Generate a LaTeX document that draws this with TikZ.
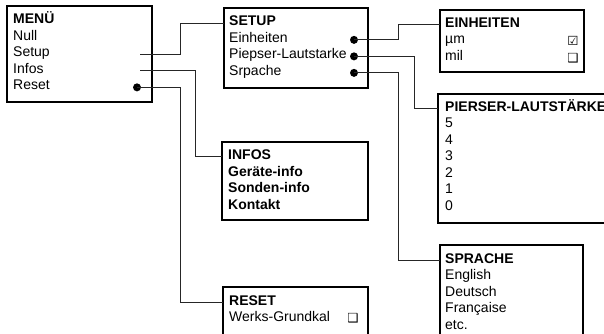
\documentclass[tikz,border=0pt]{standalone}
\usepackage{fontspec}
\setmainfont{Liberation Sans}
\newfontfamily\symfont{DejaVu Sans}
\usepackage{tikz}
\usetikzlibrary{calc}

\begin{document}
\begin{tikzpicture}[x=1pt, y=-1pt,
    menubox/.style={draw=black, line width=1.4pt, fill=white, outer sep=0pt, anchor=north west},
    titel/.style={anchor=base west, inner sep=0pt, font=\fontsize{14}{16}\selectfont\bfseries},
    eintrag/.style={anchor=base west, inner sep=0pt, font=\fontsize{14}{16}\selectfont},
    kaestchen/.style={inner sep=0pt, font=\symfont\fontsize{12.5}{14}\selectfont},
    punkt/.style={circle, fill=black, inner sep=0pt, minimum size=8pt},
    leitung/.style={draw=black!85, line width=0.8pt}]
  \clip (0,0) rectangle (604,334);

  %% boxes
  \foreach \name/\xa/\ya/\xb/\yb in {menu/7/6/152/102, setup/224/8/368/88,
                      einh/440/10/584/72, laut/438/94/640/223,
                      sprache/440/245/583/360, infos/222/142/368/220,
                      reset/223/287/368/360}{
    \pgfmathsetmacro{\bw}{\xb - \xa}
    \pgfmathsetmacro{\bh}{\yb - \ya}
    \node[menubox, minimum width=\bw pt, minimum height=\bh pt] (\name) at (\xa,\ya) {};
  }

  %% titles
  \node[titel] (menuT)    at ($(menu.north west)+(6,18)$)    {MENÜ};
  \node[titel] (setupT)   at ($(setup.north west)+(5,18)$)   {SETUP};
  \node[titel] (einhT)    at ($(einh.north west)+(5,17.5)$)  {EINHEITEN};
  \node[titel] (lautT)    at ($(laut.north west)+(7,17)$)    {PIERSER-LAUTSTÄRKE};
  \node[titel] (spracheT) at ($(sprache.north west)+(5,18)$) {SPRACHE};
  \node[titel] (infosT)   at ($(infos.north west)+(6,17.5)$) {INFOS};
  \node[titel] (resetT)   at ($(reset.north west)+(6,18.5)$) {RESET};

  %% entries
  \foreach \i/\txt in {1/Null, 2/Setup, 3/Infos, 4/Reset}
    \node[eintrag] (menu\i) at ($(menuT.base west)+(0,{16.5*\i})$) {\txt};
  \foreach \i/\txt in {1/Einheiten, 2/Piepser-Lautstarke, 3/Srpache}
    \node[eintrag] (setup\i) at ($(setupT.base west)+(0,{16.5*\i})$) {\txt};
  \foreach \i/\txt in {1/µm, 2/mil}
    \node[eintrag] (einh\i) at ($(einhT.base west)+(0,{16.5*\i})$) {\txt};
  \foreach \i/\txt in {1/5, 2/4, 3/3, 4/2, 5/1, 6/0}
    \node[eintrag] (laut\i) at ($(lautT.base west)+(0,{16.5*\i})$) {\txt};
  \foreach \i/\txt in {1/English, 2/Deutsch, 3/Française, 4/etc.}
    \node[eintrag] (sprache\i) at ($(spracheT.base west)+(0,{16.5*\i})$) {\txt};
  \foreach \i/\txt in {1/Geräte-info, 2/Sonden-info, 3/Kontakt}
    \node[eintrag, font=\fontsize{14}{16}\selectfont\bfseries] (infos\i)
      at ($(infosT.base west)+(0,{16.5*\i})$) {\txt};
  \node[eintrag] (reset1) at ($(resetT.base west)+(0,15.5)$) {Werks-Grundkal};

  %% check boxes
  \node[kaestchen] (kUm)  at ($(einh.east |- einh1.mid)+(-11,0)$) {☑};
  \node[kaestchen] (kMil) at ($(einh.east |- einh2.mid)+(-11,0)$) {❑};
  \node[kaestchen] (kWerk) at ($(reset.east |- reset1.mid)+(-15,0)$) {❑};

  %% dots and line ends
  \coordinate (cSetup) at ($(menu.east |- menu2.mid)+(-12,0)$);
  \coordinate (cInfos) at ($(menu.east |- menu3.mid)+(-12,0)$);
  \node[punkt] (dReset) at ($(menu.east |- menu4.mid)+(-15,0)$) {};
  \foreach \i in {1,2,3}
    \node[punkt] (dSetup\i) at ($(setup.east |- setup\i.mid)+(-14,0)$) {};

  %% connectors
  \draw[leitung] (cSetup) -- ++(40,0) |- (setup.west |- setupT.mid);
  \draw[leitung] (cInfos) -- ++(55,0) |- (infos.west |- infosT.mid);
  \draw[leitung] (dReset.center) -- ++(43,0) |- (reset.west |- resetT.mid);
  \draw[leitung] (dSetup1.center) -- ++(44,0) |- (einh.west |- einhT.mid);
  \draw[leitung] (dSetup2.center) -- ++(60,0) |- (laut.west |- lautT.mid);
  \draw[leitung] (dSetup3.center) -- ++(44,0) |- (sprache.west |- spracheT.mid);
\end{tikzpicture}
\end{document}
